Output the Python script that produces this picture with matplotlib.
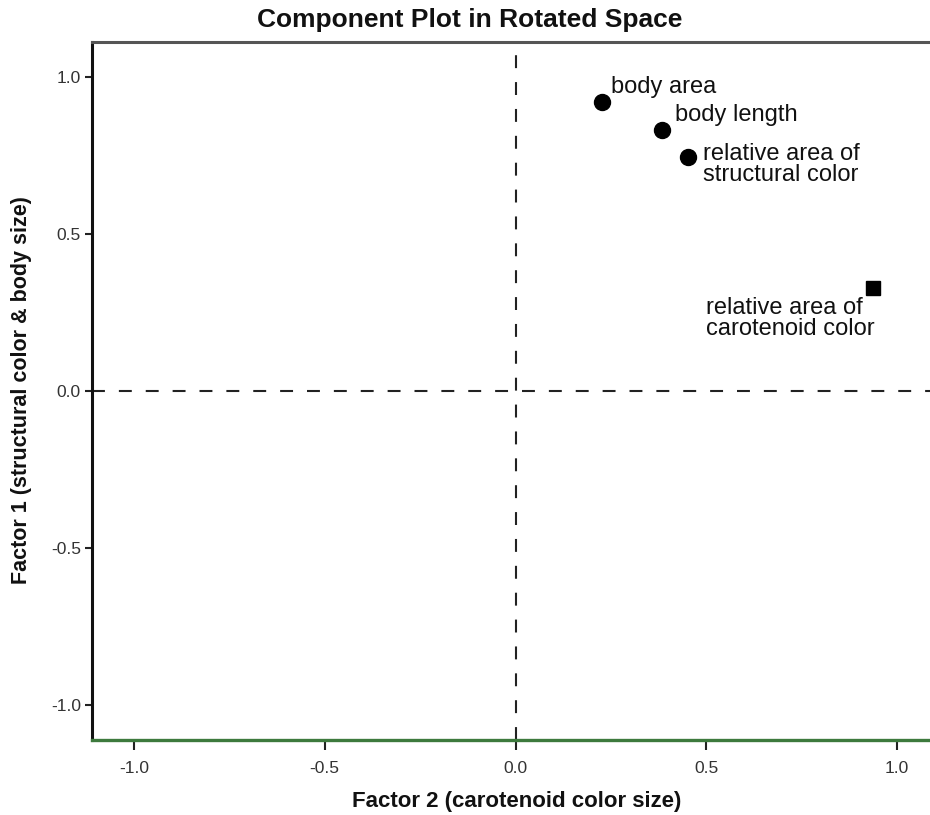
"""Component plot in rotated space (factor loadings, two-factor solution)."""
import matplotlib
matplotlib.use('Agg')
import matplotlib.pyplot as plt

# loadings
variables = ['body area', 'body length',
             'relative area of\nstructural color',
             'relative area of\ncarotenoid color']
factor2 = [0.228, 0.385, 0.453, 0.936]   # x: carotenoid color size
factor1 = [0.920, 0.831, 0.745, 0.328]   # y: structural color & body size
markers = ['o', 'o', 'o', 's']
label_offsets = [(9, 15), (13, 15), (15, -8), (-167, -31)]   # pixels

ticks = [-1.0, -0.5, 0.0, 0.5, 1.0]
tick_labels = ['-1.0', '-0.5', '0.0', '0.5', '1.0']

FONT = ['Liberation Sans', 'DejaVu Sans']
GREEN = '#3d7a3d'
INK = '#111111'
INK_2 = '#333333'

plt.rcParams['font.family'] = FONT

W, H = 930, 815
fig = plt.figure(figsize=(W / 100, H / 100), dpi=100)
# right edge of the frame falls just outside the image, as in the original
ax = fig.add_axes([92 / W, 1 - 740 / H, (939 - 92) / W, (740 - 42) / H])

ax.set_xlim(-1.11, 1.11)
ax.set_ylim(-1.11, 1.11)

ax.axvline(0, color='#222222', lw=1.5, dashes=(6.2, 6.7), zorder=1)
ax.axhline(0, color='#222222', lw=1.5, dashes=(6.2, 6.7), zorder=1)

for x, y, m, name, off in zip(factor2, factor1, markers, variables, label_offsets):
    ax.plot(x, y, marker=m, ls='none', color='black',
            markersize=11.5 if m == 'o' else 10, zorder=3)
    ax.annotate(name, xy=(x, y), xytext=off, textcoords='offset pixels',
                ha='left', va='center', fontsize=17, linespacing=0.93,
                color=INK)

ax.set_xticks(ticks)
ax.set_xticklabels(tick_labels, fontsize=12.5, color=INK_2)
ax.set_yticks(ticks)
ax.set_yticklabels(tick_labels, fontsize=12.5, color=INK_2)
ax.tick_params(axis='x', length=7, width=1.5, color='#222222', pad=8)
ax.tick_params(axis='y', length=5, width=1.5, color='#222222', pad=3)

ax.spines['left'].set_linewidth(2.2)
ax.spines['left'].set_color(INK)
ax.spines['top'].set_linewidth(2.2)
ax.spines['top'].set_color('#555555')
ax.spines['bottom'].set_linewidth(2.4)
ax.spines['bottom'].set_color(GREEN)
ax.spines['right'].set_visible(False)

fig.text(517 / W, 1 - 802 / H, 'Factor 2 (carotenoid color size)',
         fontweight='bold', fontsize=16, ha='center', va='center', color=INK)
fig.text(22 / W, 1 - 390 / H, 'Factor 1 (structural color & body size)',
         fontweight='bold', fontsize=15.5, rotation=90,
         ha='center', va='center', color=INK)
fig.text(470 / W, 1 - 20 / H, 'Component Plot in Rotated Space',
         fontweight='bold', fontsize=19, ha='center', va='center', color=INK)

fig.savefig('out.png', dpi=100, facecolor='white')
